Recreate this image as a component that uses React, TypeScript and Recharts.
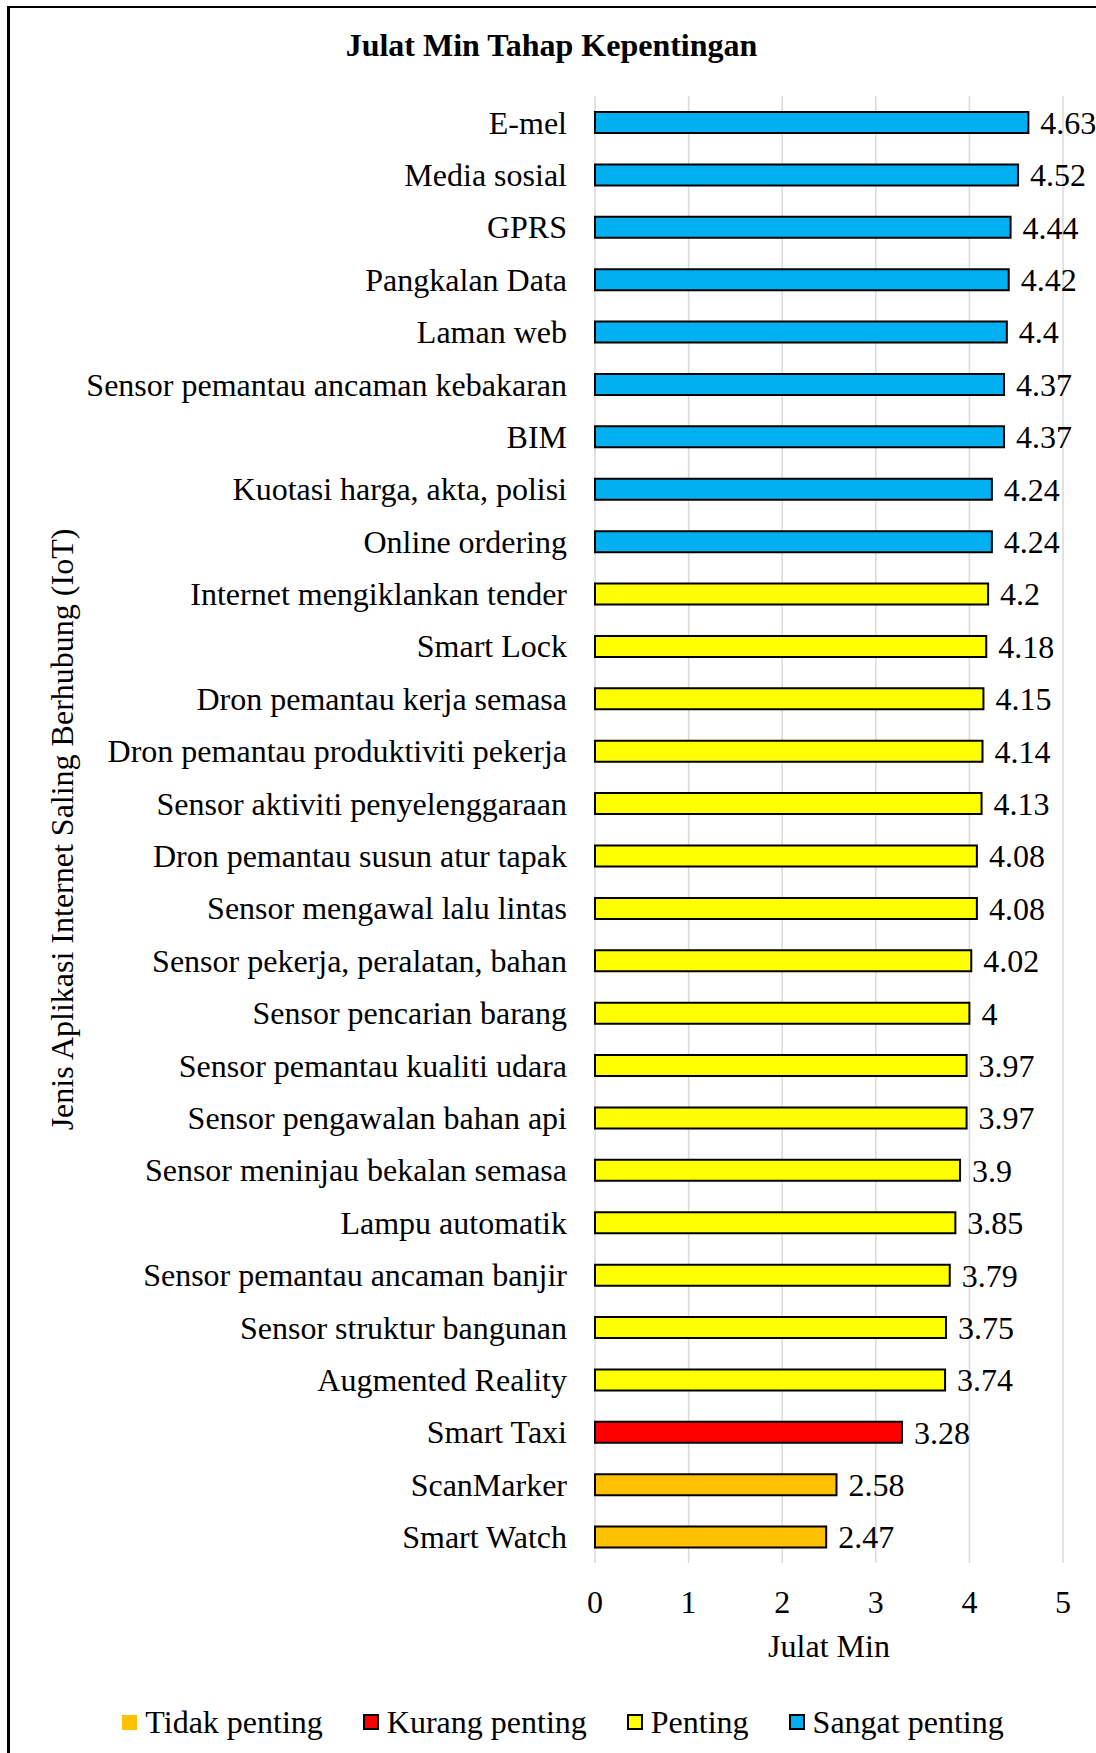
import { BarChart, Bar, XAxis, YAxis, CartesianGrid, Cell, LabelList } from "recharts";

// Mean importance range per IoT application, top to bottom as drawn.
const categories = [
  "E-mel",
  "Media sosial",
  "GPRS",
  "Pangkalan Data",
  "Laman web",
  "Sensor pemantau ancaman kebakaran",
  "BIM",
  "Kuotasi harga, akta, polisi",
  "Online ordering",
  "Internet mengiklankan tender",
  "Smart Lock",
  "Dron pemantau kerja semasa",
  "Dron pemantau produktiviti pekerja",
  "Sensor aktiviti penyelenggaraan",
  "Dron pemantau susun atur tapak",
  "Sensor mengawal lalu lintas",
  "Sensor pekerja, peralatan, bahan",
  "Sensor pencarian barang",
  "Sensor pemantau kualiti udara",
  "Sensor pengawalan bahan api",
  "Sensor meninjau bekalan semasa",
  "Lampu automatik",
  "Sensor pemantau ancaman banjir",
  "Sensor struktur bangunan",
  "Augmented Reality",
  "Smart Taxi",
  "ScanMarker",
  "Smart Watch",
];

const values = [
  4.63, 4.52, 4.44, 4.42, 4.4, 4.37, 4.37, 4.24, 4.24, 4.2, 4.18, 4.15, 4.14, 4.13,
  4.08, 4.08, 4.02, 4, 3.97, 3.97, 3.9, 3.85, 3.79, 3.75, 3.74, 3.28, 2.58, 2.47,
];

// 0 = Tidak penting, 1 = Kurang penting, 2 = Penting, 3 = Sangat penting
const levels = [3, 3, 3, 3, 3, 3, 3, 3, 3, 2, 2, 2, 2, 2, 2, 2, 2, 2, 2, 2, 2, 2, 2, 2, 2, 1, 0, 0];

const levelNames = ["Tidak penting", "Kurang penting", "Penting", "Sangat penting"];

const xTicks = [0, 1, 2, 3, 4, 5];

const levelColors = ["#FFC000", "#FF0000", "#FFFF00", "#00B0F0"];
const FONT = '"Liberation Serif", "Times New Roman", serif';
const FS = 32;

const chartData = categories.map((name, i) => ({ name, value: values[i], level: levels[i] }));

export default function App() {
  return (
    <div style={{ position: "relative", width: 1096, height: 1753, overflow: "hidden", fontFamily: FONT, background: "#fff" }}>
      <style>{"body{margin:0}"}</style>
      {/* frame: only top and left edges fall inside the picture */}
      <div
        style={{
          position: "absolute",
          left: 7,
          top: 6,
          width: 1200,
          height: 1900,
          borderLeft: "3px solid #000",
          borderTop: "2px solid #000",
        }}
      />
      <div
        style={{
          position: "absolute",
          left: 7,
          width: 1089,
          top: 45 - 20,
          textAlign: "center",
          fontWeight: "bold",
          fontSize: FS,
          lineHeight: "40px",
        }}
      >
        Julat Min Tahap Kepentingan
      </div>
      <div style={{ position: "absolute", left: 0, top: 0 }}>
        <BarChart
          width={1096}
          height={1753}
          layout="vertical"
          data={chartData}
          margin={{ top: 96, right: 33, bottom: 90, left: 0 }}
          barSize={21}
        >
          <CartesianGrid horizontal={false} stroke="#D9D9D9" strokeWidth={1.5} />
          <XAxis
            type="number"
            domain={[0, 5]}
            ticks={xTicks}
            axisLine={false}
            tickLine={false}
            tickSize={0}
            tickMargin={27}
            height={100}
            tick={{ fontSize: FS, fill: "#000", fontFamily: FONT }}
            label={{
              value: "Julat Min",
              position: "insideBottom",
              offset: 6,
              style: { fontSize: FS, fill: "#000", fontFamily: FONT },
            }}
          />
          <YAxis
            type="category"
            dataKey="name"
            width={595}
            axisLine={false}
            tickLine={false}
            tickSize={0}
            tickMargin={28}
            interval={0}
            tick={{ fontSize: FS, fill: "#000", fontFamily: FONT }}
            label={{
              value: "Jenis Aplikasi Internet Saling Berhubung (IoT)",
              angle: -90,
              position: "insideLeft",
              offset: 62,
              style: { fontSize: FS, fill: "#000", fontFamily: FONT, textAnchor: "middle" },
            }}
          />
          <Bar dataKey="value" stroke="#000" strokeWidth={2} isAnimationActive={false}>
            {chartData.map((d) => (
              <Cell key={d.name} fill={levelColors[d.level]} />
            ))}
            <LabelList
              dataKey="value"
              position="right"
              offset={12}
              style={{ fontSize: FS, fill: "#000", fontFamily: FONT }}
            />
          </Bar>
        </BarChart>
      </div>
      {/* legend */}
      <div
        style={{
          position: "absolute",
          left: 0,
          width: 1126,
          top: 1722 - 20,
          height: 40,
          display: "flex",
          justifyContent: "center",
          alignItems: "center",
          fontSize: FS,
        }}
      >
        {levelNames.map((n, i) => (
          <div key={n} style={{ display: "flex", alignItems: "center", marginRight: i < 3 ? 40 : 0 }}>
            <span
              style={{
                display: "inline-block",
                width: i === 0 ? 15 : 12,
                height: i === 0 ? 15 : 12,
                background: levelColors[i],
                border: i === 0 ? "none" : "2px solid #000",
                marginRight: 8,
              }}
            />
            <span style={{ lineHeight: "40px" }}>{n}</span>
          </div>
        ))}
      </div>
    </div>
  );
}
